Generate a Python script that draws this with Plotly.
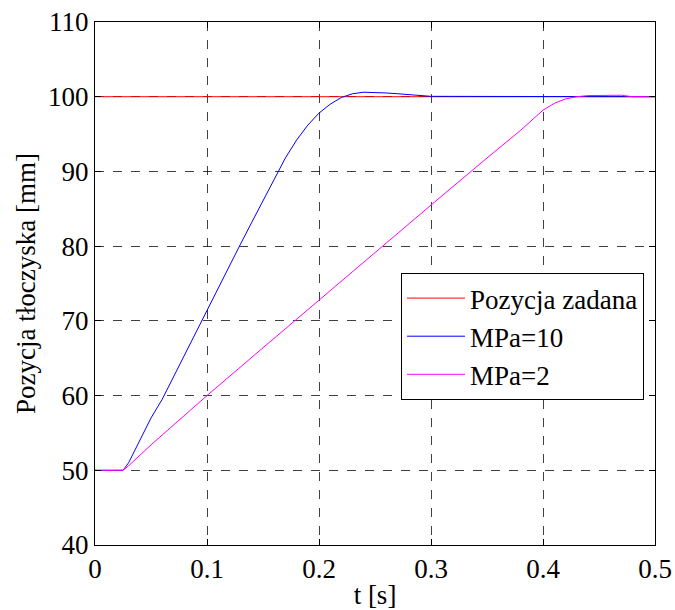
import plotly.graph_objects as go

# Data
t_ref = [0.0, 0.5]
y_ref = [100.0, 100.0]

t_mpa10 = [0.0, 0.025, 0.03, 0.04, 0.05, 0.06, 0.07, 0.08, 0.09, 0.10, 0.11, 0.12,
           0.13, 0.14, 0.15, 0.16, 0.17, 0.18, 0.19, 0.20, 0.21, 0.22, 0.23, 0.24,
           0.25, 0.26, 0.27, 0.28, 0.29, 0.30, 0.50]
y_mpa10 = [50.0, 50.0, 51.0, 54.0, 57.0, 59.5, 62.5, 65.5, 68.5, 71.5, 74.5, 77.5,
           80.3, 83.2, 86.0, 89.0, 91.8, 94.2, 96.2, 97.8, 99.0, 99.9, 100.4, 100.6,
           100.6, 100.5, 100.4, 100.3, 100.2, 100.05, 100.0]

t_mpa2 = [0.0, 0.025, 0.03, 0.04, 0.05, 0.075, 0.10, 0.15, 0.20, 0.25, 0.30, 0.35,
          0.38, 0.40, 0.41, 0.42, 0.43, 0.44, 0.45, 0.46, 0.47, 0.48, 0.50]
y_mpa2 = [50.0, 50.0, 50.6, 52.0, 53.4, 56.7, 60.0, 66.4, 72.8, 79.2, 85.5, 91.8,
          95.5, 98.2, 99.1, 99.7, 100.0, 100.15, 100.2, 100.2, 100.2, 100.0, 100.0]

x_ticks = [0, 0.1, 0.2, 0.3, 0.4, 0.5]
x_ticklabels = ["0", "0.1", "0.2", "0.3", "0.4", "0.5"]
y_ticks = [40, 50, 60, 70, 80, 90, 100, 110]

FONT = "Liberation Serif"
FS = 27

fig = go.Figure()
fig.add_trace(go.Scatter(x=t_ref, y=y_ref, mode="lines", name="Pozycja zadana",
                         line=dict(color="#ff0000", width=1)))
fig.add_trace(go.Scatter(x=t_mpa10, y=y_mpa10, mode="lines", name="MPa=10",
                         line=dict(color="#0000ff", width=1)))
fig.add_trace(go.Scatter(x=t_mpa2, y=y_mpa2, mode="lines", name="MPa=2",
                         line=dict(color="#ff00ff", width=1)))

axis_common = dict(
    showline=True, linecolor="black", linewidth=1, mirror="ticks",
    ticks="inside", ticklen=6, tickcolor="black",
    showgrid=True, gridcolor="rgba(0,0,0,0.75)", griddash="dash", gridwidth=1,
    zeroline=False, automargin=False, ticklabeloverflow="allow",
    tickfont=dict(family=FONT, size=FS, color="black"),
)

fig.update_layout(
    width=675, height=610,
    margin=dict(l=95, r=20, t=22, b=65),
    paper_bgcolor="white", plot_bgcolor="white",
    font=dict(family=FONT, size=FS, color="black"),
    xaxis=dict(range=[0, 0.5], tickvals=x_ticks, ticktext=x_ticklabels,
               title=dict(text="t [s]", font=dict(family=FONT, size=FS, color="black"), standoff=6),
               **axis_common),
    yaxis=dict(range=[40, 110], tickvals=y_ticks,
               title=dict(text="Pozycja tłoczyska [mm]",
                          font=dict(family=FONT, size=FS, color="black"), standoff=4),
               **axis_common),
    legend=dict(x=0.9804, y=0.52, xanchor="right", yanchor="top",
                bgcolor="white", bordercolor="black", borderwidth=1,
                font=dict(family=FONT, size=27, color="black"),
                tracegroupgap=0, itemwidth=58),
    showlegend=True,
)

fig.write_html("out.html", config={"displayModeBar": False},
               post_script="document.body.style.margin='0';")
